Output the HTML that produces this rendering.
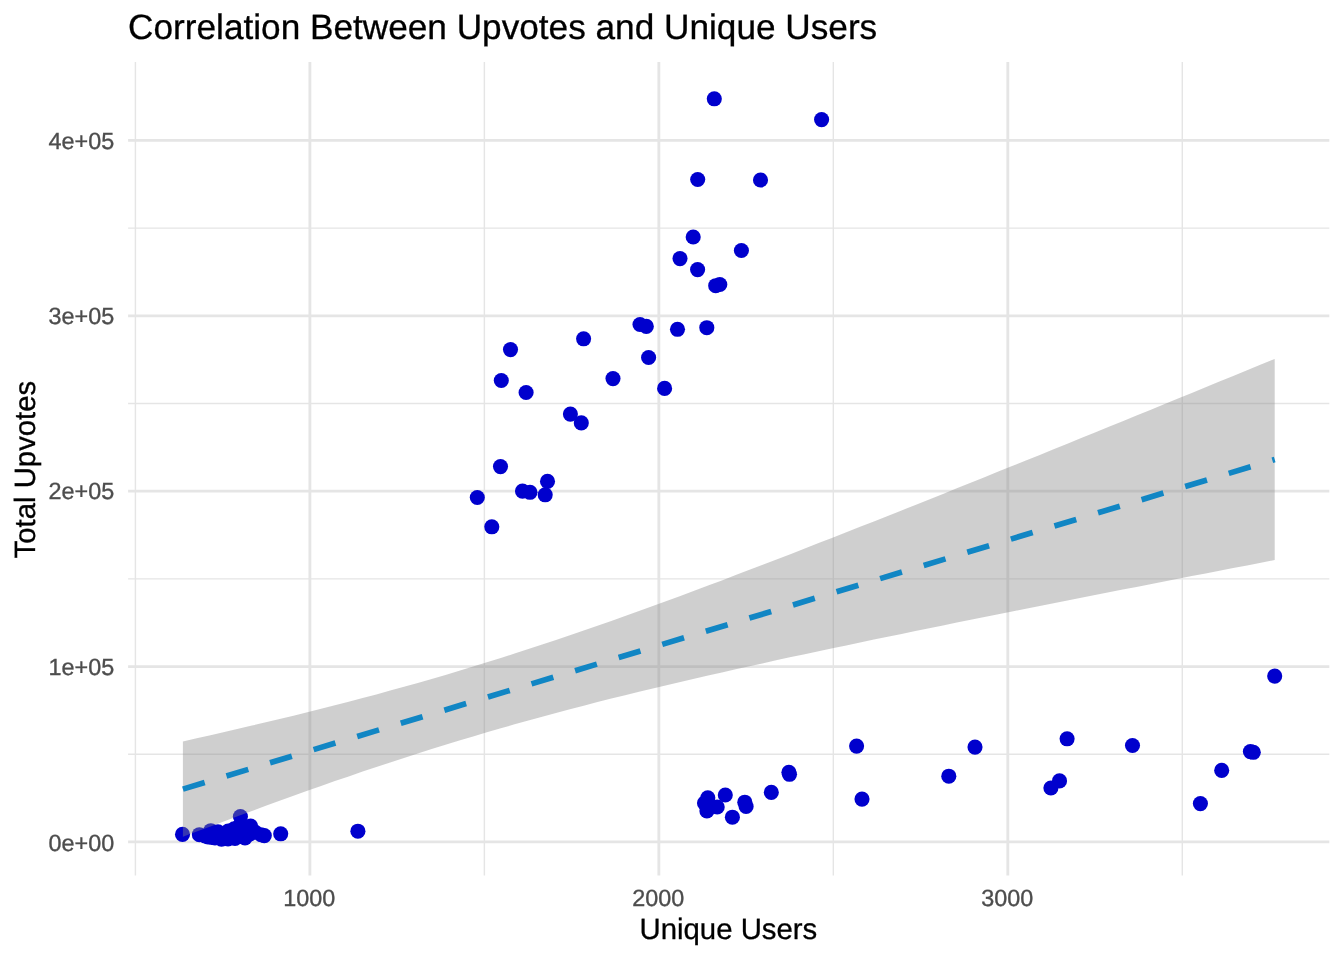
<!DOCTYPE html>
<html><head><meta charset="utf-8"><title>Correlation Between Upvotes and Unique Users</title>
<style>
html,body{margin:0;padding:0;background:#fff;}
svg{display:block}
text{font-family:"Liberation Sans",Arial,Helvetica,sans-serif;text-rendering:geometricPrecision;}
.tk{font-size:23.4px;fill:#4D4D4D;stroke:#4D4D4D;stroke-width:0.35px}
.ax{font-size:29.33px;fill:#000;stroke:#000;stroke-width:0.3px}
.ti{font-size:35.2px;fill:#000;stroke:#000;stroke-width:0.3px}
</style></head><body>
<svg width="1344" height="960" viewBox="0 0 1344 960">
<rect width="1344" height="960" fill="#fff"/>
<g stroke="#E5E5E5" fill="none">
<line x1="128.1" x2="1329.3" y1="754.26" y2="754.26" stroke-width="1.42"/>
<line x1="128.1" x2="1329.3" y1="578.89" y2="578.89" stroke-width="1.42"/>
<line x1="128.1" x2="1329.3" y1="403.51" y2="403.51" stroke-width="1.42"/>
<line x1="128.1" x2="1329.3" y1="228.14" y2="228.14" stroke-width="1.42"/>
<line y1="61.9" y2="875.6" x1="135.42" x2="135.42" stroke-width="1.42"/>
<line y1="61.9" y2="875.6" x1="484.38" x2="484.38" stroke-width="1.42"/>
<line y1="61.9" y2="875.6" x1="833.32" x2="833.32" stroke-width="1.42"/>
<line y1="61.9" y2="875.6" x1="1182.28" x2="1182.28" stroke-width="1.42"/>
<line x1="128.1" x2="1329.3" y1="841.95" y2="841.95" stroke-width="2.84"/>
<line x1="128.1" x2="1329.3" y1="666.58" y2="666.58" stroke-width="2.84"/>
<line x1="128.1" x2="1329.3" y1="491.20" y2="491.20" stroke-width="2.84"/>
<line x1="128.1" x2="1329.3" y1="315.83" y2="315.83" stroke-width="2.84"/>
<line x1="128.1" x2="1329.3" y1="140.45" y2="140.45" stroke-width="2.84"/>
<line y1="61.9" y2="875.6" x1="309.90" x2="309.90" stroke-width="2.84"/>
<line y1="61.9" y2="875.6" x1="658.85" x2="658.85" stroke-width="2.84"/>
<line y1="61.9" y2="875.6" x1="1007.80" x2="1007.80" stroke-width="2.84"/>
</g>
<g fill="#0000CD">
<circle cx="477.3" cy="497.5" r="7.55"/>
<circle cx="491.8" cy="526.8" r="7.55"/>
<circle cx="500.5" cy="466.6" r="7.55"/>
<circle cx="522.5" cy="491.1" r="7.55"/>
<circle cx="530.0" cy="492.3" r="7.55"/>
<circle cx="545.2" cy="494.8" r="7.55"/>
<circle cx="547.5" cy="481.4" r="7.55"/>
<circle cx="570.4" cy="414.1" r="7.55"/>
<circle cx="581.3" cy="422.9" r="7.55"/>
<circle cx="501.3" cy="380.5" r="7.55"/>
<circle cx="526.1" cy="392.5" r="7.55"/>
<circle cx="613.0" cy="378.6" r="7.55"/>
<circle cx="664.6" cy="388.4" r="7.55"/>
<circle cx="510.5" cy="349.6" r="7.55"/>
<circle cx="583.6" cy="338.8" r="7.55"/>
<circle cx="640.0" cy="324.5" r="7.55"/>
<circle cx="646.3" cy="326.4" r="7.55"/>
<circle cx="648.6" cy="357.5" r="7.55"/>
<circle cx="677.5" cy="329.3" r="7.55"/>
<circle cx="680.0" cy="258.6" r="7.55"/>
<circle cx="693.2" cy="237.0" r="7.55"/>
<circle cx="697.6" cy="269.6" r="7.55"/>
<circle cx="706.8" cy="327.7" r="7.55"/>
<circle cx="741.4" cy="250.5" r="7.55"/>
<circle cx="715.7" cy="285.7" r="7.55"/>
<circle cx="719.8" cy="284.5" r="7.55"/>
<circle cx="714.3" cy="98.8" r="7.55"/>
<circle cx="821.6" cy="119.6" r="7.55"/>
<circle cx="697.7" cy="179.5" r="7.55"/>
<circle cx="760.5" cy="180.0" r="7.55"/>
<circle cx="856.6" cy="746.1" r="7.55"/>
<circle cx="862.0" cy="799.1" r="7.55"/>
<circle cx="788.9" cy="772.3" r="7.55"/>
<circle cx="789.5" cy="774.3" r="7.55"/>
<circle cx="771.3" cy="792.4" r="7.55"/>
<circle cx="725.3" cy="795.0" r="7.55"/>
<circle cx="707.8" cy="797.8" r="7.55"/>
<circle cx="704.5" cy="803.1" r="7.55"/>
<circle cx="717.2" cy="807.0" r="7.55"/>
<circle cx="706.9" cy="810.9" r="7.55"/>
<circle cx="744.8" cy="802.2" r="7.55"/>
<circle cx="746.1" cy="806.5" r="7.55"/>
<circle cx="732.4" cy="817.2" r="7.55"/>
<circle cx="975.0" cy="747.1" r="7.55"/>
<circle cx="948.8" cy="776.2" r="7.55"/>
<circle cx="1067.1" cy="738.8" r="7.55"/>
<circle cx="1059.5" cy="780.9" r="7.55"/>
<circle cx="1050.9" cy="788.0" r="7.55"/>
<circle cx="1132.5" cy="745.5" r="7.55"/>
<circle cx="1274.7" cy="676.1" r="7.55"/>
<circle cx="1250.4" cy="751.6" r="7.55"/>
<circle cx="1253.3" cy="752.3" r="7.55"/>
<circle cx="1221.7" cy="770.4" r="7.55"/>
<circle cx="1200.4" cy="803.6" r="7.55"/>
<circle cx="182.5" cy="834.4" r="7.55"/>
<circle cx="280.7" cy="833.8" r="7.55"/>
<circle cx="357.9" cy="831.2" r="7.55"/>
<circle cx="199.4" cy="834.7" r="7.55"/>
<circle cx="210.8" cy="830.7" r="7.55"/>
<circle cx="205.0" cy="836.0" r="7.55"/>
<circle cx="212.0" cy="837.5" r="7.55"/>
<circle cx="218.0" cy="831.8" r="7.55"/>
<circle cx="228.2" cy="831.0" r="7.55"/>
<circle cx="234.2" cy="828.8" r="7.55"/>
<circle cx="240.4" cy="816.5" r="7.55"/>
<circle cx="250.6" cy="826.0" r="7.55"/>
<circle cx="264.3" cy="835.6" r="7.55"/>
<circle cx="261.0" cy="834.7" r="7.55"/>
<circle cx="221.5" cy="839.2" r="7.55"/>
<circle cx="228.0" cy="838.9" r="7.55"/>
<circle cx="235.0" cy="838.5" r="7.55"/>
<circle cx="245.0" cy="838.0" r="7.55"/>
<circle cx="240.0" cy="836.0" r="7.55"/>
<circle cx="215.0" cy="838.0" r="7.55"/>
<circle cx="208.0" cy="837.0" r="7.55"/>
<circle cx="250.0" cy="834.0" r="7.55"/>
<circle cx="255.0" cy="832.0" r="7.55"/>
<circle cx="224.0" cy="834.0" r="7.55"/>
<circle cx="231.0" cy="835.0" r="7.55"/>
<circle cx="238.0" cy="832.0" r="7.55"/>
<circle cx="244.0" cy="830.0" r="7.55"/>
<circle cx="247.0" cy="828.0" r="7.55"/>
<circle cx="236.0" cy="834.0" r="7.55"/>
<circle cx="240.0" cy="825.0" r="7.55"/>
<circle cx="241.0" cy="829.0" r="7.55"/>
</g>
<polygon points="182.9,741.4 196.7,738.3 210.5,735.2 224.4,732.0 238.2,728.8 252.0,725.6 265.8,722.3 279.6,719.0 293.5,715.7 307.3,712.2 321.1,708.8 334.9,705.3 348.7,701.7 362.6,698.1 376.4,694.4 390.2,690.6 404.0,686.8 417.8,682.9 431.7,678.9 445.5,674.9 459.3,670.8 473.1,666.6 486.9,662.3 500.8,658.0 514.6,653.6 528.4,649.1 542.2,644.6 556.0,640.0 569.9,635.3 583.7,630.5 597.5,625.7 611.3,620.9 625.1,616.0 639.0,611.0 652.8,606.0 666.6,601.0 680.4,595.9 694.2,590.7 708.1,585.6 721.9,580.4 735.7,575.1 749.5,569.8 763.4,564.6 777.2,559.2 791.0,553.9 804.8,548.5 818.6,543.1 832.5,537.7 846.3,532.3 860.1,526.8 873.9,521.4 887.7,515.9 901.6,510.4 915.4,504.9 929.2,499.4 943.0,493.9 956.8,488.3 970.7,482.8 984.5,477.2 998.3,471.6 1012.1,466.1 1025.9,460.5 1039.8,454.9 1053.6,449.3 1067.4,443.7 1081.2,438.1 1095.0,432.4 1108.9,426.8 1122.7,421.2 1136.5,415.5 1150.3,409.9 1164.1,404.2 1178.0,398.6 1191.8,392.9 1205.6,387.3 1219.4,381.6 1233.2,375.9 1247.1,370.3 1260.9,364.6 1274.7,358.9 1274.7,560.1 1260.9,562.7 1247.1,565.4 1233.2,568.1 1219.4,570.7 1205.6,573.4 1191.8,576.1 1178.0,578.8 1164.1,581.5 1150.3,584.2 1136.5,586.9 1122.7,589.6 1108.9,592.3 1095.0,595.0 1081.2,597.7 1067.4,600.5 1053.6,603.2 1039.8,606.0 1025.9,608.7 1012.1,611.5 998.3,614.2 984.5,617.0 970.7,619.8 956.8,622.6 943.0,625.4 929.2,628.2 915.4,631.0 901.6,633.9 887.7,636.7 873.9,639.6 860.1,642.5 846.3,645.4 832.5,648.3 818.6,651.2 804.8,654.2 791.0,657.1 777.2,660.1 763.4,663.2 749.5,666.2 735.7,669.3 721.9,672.4 708.1,675.5 694.2,678.7 680.4,681.9 666.6,685.2 652.8,688.5 639.0,691.8 625.1,695.2 611.3,698.6 597.5,702.1 583.7,705.7 569.9,709.3 556.0,712.9 542.2,716.7 528.4,720.5 514.6,724.3 500.8,728.3 486.9,732.3 473.1,736.4 459.3,740.5 445.5,744.7 431.7,749.0 417.8,753.4 404.0,757.9 390.2,762.4 376.4,767.0 362.6,771.6 348.7,776.4 334.9,781.1 321.1,786.0 307.3,790.8 293.5,795.8 279.6,800.8 265.8,805.8 252.0,810.9 238.2,816.0 224.4,821.2 210.5,826.4 196.7,831.6 182.9,836.8" fill="#878787" fill-opacity="0.4"/>
<line x1="182.9" y1="789.10" x2="1274.7" y2="459.49" stroke="#1186C4" stroke-width="5.69" stroke-dasharray="22.76 22.76" fill="none"/>
<text class="tk" x="114.2" y="850.9" text-anchor="end">0e+00</text>
<text class="tk" x="114.2" y="674.7" text-anchor="end">1e+05</text>
<text class="tk" x="114.2" y="499.3" text-anchor="end">2e+05</text>
<text class="tk" x="114.2" y="323.9" text-anchor="end">3e+05</text>
<text class="tk" x="114.2" y="148.6" text-anchor="end">4e+05</text>
<text class="tk" x="309.3" y="905.8" text-anchor="middle">1000</text>
<text class="tk" x="658.2" y="905.8" text-anchor="middle">2000</text>
<text class="tk" x="1007.2" y="905.8" text-anchor="middle">3000</text>
<text class="ax" x="728.4" y="939.2" text-anchor="middle">Unique Users</text>
<text class="ax" transform="translate(35.1,469.6) rotate(-90)" text-anchor="middle">Total Upvotes</text>
<text class="ti" x="128.1" y="39.2">Correlation Between Upvotes and Unique Users</text>
</svg></body></html>
